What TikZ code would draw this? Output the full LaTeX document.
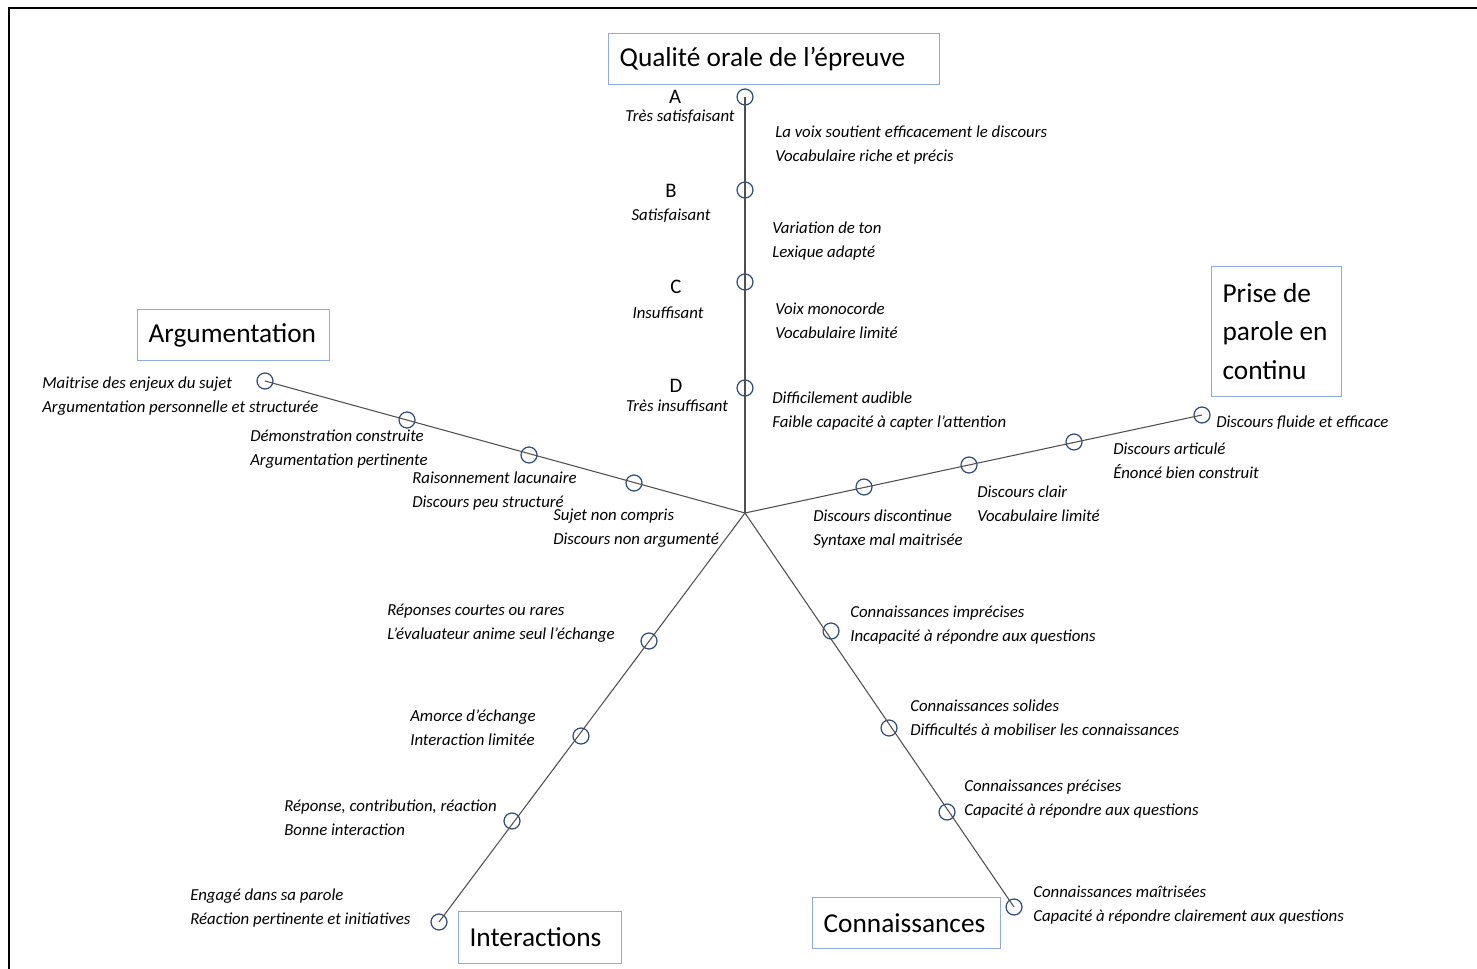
\documentclass[tikz,border=0pt]{standalone}
\usepackage{fontspec}
\setmainfont{Carlito}
\definecolor{boxblue}{HTML}{8FAADC}
\definecolor{ringblue}{HTML}{2E4A78}
\definecolor{axisgray}{HTML}{505050}
\tikzset{
  titlebox/.style={draw=boxblue, line width=0.9pt, anchor=north west, align=flush left, inner xsep=8.25pt, inner ysep=0pt, font=\fontsize{20.5}{29}\selectfont},
  ring/.style={circle, draw=ringblue, line width=0.9pt, minimum size=12pt, inner sep=0pt},
  axis/.style={draw=axisgray, line width=0.8pt},
  desc/.style={font=\fontsize{12.6}{18}\selectfont\itshape, align=left, inner sep=0pt, anchor=west},
  grade/.style={font=\fontsize{15.5}{18}\selectfont, inner sep=0pt},
  gradet/.style={font=\fontsize{12.6}{18}\selectfont\itshape, inner sep=0pt},
}
\begin{document}
\begin{tikzpicture}[x=0.75pt,y=-0.75pt]
\useasboundingbox (0,0) rectangle (1477,969);
% frame
\coordinate (fbl) at (9,975);
\coordinate (ftl) at (9,8);
\coordinate (ftr) at (1485,8);
\draw[line width=2pt] (fbl) -- (ftl) -- (ftr);

\coordinate (o) at (745,513);

% rings
\node[ring] (qa) at (745,97) {};
\node[ring] (qb) at (745,190) {};
\node[ring] (qc) at (745,282) {};
\node[ring] (qd) at (745,388) {};
\node[ring] (a1) at (265,381) {};
\node[ring] (a2) at (407,420) {};
\node[ring] (a3) at (529,455) {};
\node[ring] (a4) at (634,483) {};
\node[ring] (p1) at (864,487) {};
\node[ring] (p2) at (969,465) {};
\node[ring] (p3) at (1074,442) {};
\node[ring] (p4) at (1202,415) {};
\node[ring] (k1) at (831,631) {};
\node[ring] (k2) at (889,728) {};
\node[ring] (k3) at (947,812) {};
\node[ring] (k4) at (1014,907) {};
\node[ring] (i1) at (649,641) {};
\node[ring] (i2) at (581,736) {};
\node[ring] (i3) at (512,821) {};
\node[ring] (i4) at (439,922) {};

% axes
\draw[axis] (o) -- (qa.center);
\draw[axis] (o) -- (a1.center);
\draw[axis] (o) -- (p4.center);
\draw[axis] (o) -- (k4.center);
\draw[axis] (o) -- (i4.center);

% boxes
\node[titlebox, text width=231.75pt, minimum height=38.25pt] (tq) at (608,33) {Qualité orale de l’épreuve};
\node[titlebox, text width=127.5pt, minimum height=38.25pt] (ta) at (137,309) {Argumentation};
\node[titlebox, text width=81pt, minimum height=97.5pt] (tp) at (1211,266) {Prise de\\parole en\\continu};
\node[titlebox, text width=105.75pt, minimum height=39pt] (ti) at (458,911) {Interactions};
\node[titlebox, text width=124.5pt, minimum height=38.25pt] (tk) at (812,897) {Connaissances};

% grades
\node[grade] (ga) at (675,97) {A};
\node[gradet] (gat) at (680,117) {Très satisfaisant};
\node[grade] (gb) at (671,191) {B};
\node[gradet] (gbt) at (671,216) {Satisfaisant};
\node[grade] (gc) at (676,287) {C};
\node[gradet] (gct) at (668,313) {Insuffisant};
\node[grade] (gd) at (676,386) {D};
\node[gradet] (gdt) at (677,406) {Très insuffisant};

% oral descriptions
\node[desc] (da) at (775,145) {La voix soutient efficacement le discours\\Vocabulaire riche et précis};
\node[desc] (db) at (772,241) {Variation de ton\\Lexique adapté};
\node[desc] (dc) at (775,321) {Voix monocorde\\Vocabulaire limité};
\node[desc] (dd) at (772,411) {Difficilement audible\\Faible capacité à capter l’attention};

% argumentation
\node[desc] (la1) at (42,396) {Maitrise des enjeux du sujet\\Argumentation personnelle et structurée};
\node[desc] (la2) at (250,449) {Démonstration construite\\Argumentation pertinente};
\node[desc] (la3) at (412,491) {Raisonnement lacunaire\\Discours peu structuré};
\node[desc] (la4) at (553,528) {Sujet non compris\\Discours non argumenté};

% prise de parole
\node[desc] (lp4) at (1216,423) {Discours fluide et efficace};
\node[desc] (lp3) at (1113,461) {Discours articulé\\Énoncé bien construit};
\node[desc] (lp2) at (977,504) {Discours clair\\Vocabulaire limité};
\node[desc] (lp1) at (813,529) {Discours discontinue\\Syntaxe mal maitrisée};

% connaissances
\node[desc] (lk1) at (850,625) {Connaissances imprécises\\Incapacité à répondre aux questions};
\node[desc] (lk2) at (910,718) {Connaissances solides\\Difficultés à mobiliser les connaissances};
\node[desc] (lk3) at (964,799) {Connaissances précises\\Capacité à répondre aux questions};
\node[desc] (lk4) at (1033,905) {Connaissances maîtrisées\\Capacité à répondre clairement aux questions};

% interactions
\node[desc] (li1) at (387,623) {Réponses courtes ou rares\\L’évaluateur anime seul l’échange};
\node[desc] (li2) at (410,728) {Amorce d’échange\\Interaction limitée};
\node[desc] (li3) at (284,818) {Réponse, contribution, réaction\\Bonne interaction};
\node[desc] (li4) at (190,908) {Engagé dans sa parole\\Réaction pertinente et initiatives};
\end{tikzpicture}
\end{document}
